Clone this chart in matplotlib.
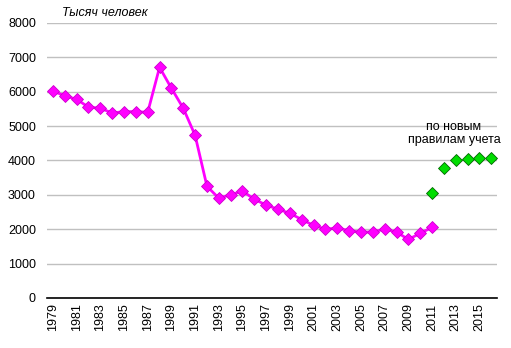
import matplotlib.pyplot as plt

plt.rcParams['font.family'] = ['Liberation Sans', 'DejaVu Sans']

# Численность, тыс. человек
years = list(range(1979, 2017))
old_years = list(range(1979, 2012))
old_values = [6020, 5880, 5780, 5550, 5520, 5380, 5420, 5420, 5400, 6710,
              6100, 5520, 4730, 3250, 2900, 3000, 3110, 2870, 2700, 2580,
              2460, 2280, 2110, 2000, 2030, 1960, 1910, 1920, 2000, 1920,
              1700, 1880, 2050]
new_years = [2011, 2012, 2013, 2014, 2015, 2016]
new_values = [3050, 3780, 4000, 4040, 4070, 4080]

fig = plt.figure(figsize=(5.11, 3.48), dpi=100)
ax = fig.add_axes([0.092, 0.144, 0.881, 0.79])

x_old = [years.index(y) for y in old_years]
x_new = [years.index(y) for y in new_years]

ax.plot(x_old, old_values, color='#ff00ff', lw=2, marker='D', markersize=6,
        markerfacecolor='#ff00ff', markeredgecolor='#cc00cc', markeredgewidth=0.6, zorder=3)
ax.plot(x_new, new_values, ls='none', marker='D', markersize=6,
        markerfacecolor='#00dd00', markeredgecolor='#006600', markeredgewidth=0.6, zorder=3)

ax.set_xlim(-0.5, len(years) - 0.5)
ax.set_ylim(0, 8000)
ax.set_yticks(range(0, 8001, 1000))
ax.set_xticks(range(0, len(years), 2))
ax.set_xticklabels([str(y) for y in years[::2]], rotation=90, fontsize=9)
ax.tick_params(axis='y', labelsize=9, length=0, pad=8)
ax.tick_params(axis='x', length=0, pad=4)

ax.grid(axis='y', color='#c0c0c0', lw=1)
ax.set_axisbelow(True)
for side in ['left', 'right', 'top']:
    ax.spines[side].set_visible(False)
ax.spines['bottom'].set_color('black')
ax.spines['bottom'].set_linewidth(1.2)

fig.text(0.122, 0.955, 'Тысяч человек', fontsize=9, style='italic')
ax.text(years.index(2012) + 0.85, 4420, 'по новым\nправилам учета', fontsize=9,
        ha='center', va='bottom', linespacing=1.15)

fig.savefig('out.png', dpi=100)
